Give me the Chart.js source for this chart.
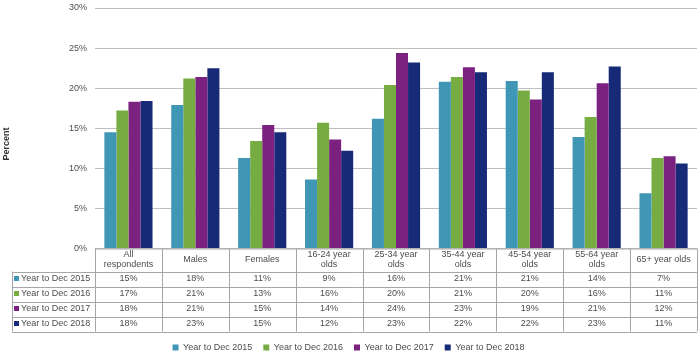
<!DOCTYPE html>
<html lang="en">
<head>
    <meta charset="UTF-8">
    <title>Percent by group, year to Dec 2015-2018</title>
    <style>
        html, body {
            margin: 0;
            padding: 0;
            background: #fff;
            overflow: hidden;
        }
        .wrap {
            position: relative;
            width: 700px;
            height: 362px;
        }
    </style>
    <script src="https://cdn.jsdelivr.net/npm/chart.js"></script>
</head>
<body>
    <div class="wrap">
        <canvas id="chart"></canvas>
    </div>

    <script>
        // header text of the table (one entry per line)
        const categories = [
            ['All', 'respondents'], ['Males'], ['Females'],
            ['16-24 year', 'olds'], ['25-34 year', 'olds'], ['35-44 year', 'olds'],
            ['45-54 year', 'olds'], ['55-64 year', 'olds'], ['65+ year olds']
        ];
        const seriesNames = ['Year to Dec 2015', 'Year to Dec 2016', 'Year to Dec 2017', 'Year to Dec 2018'];
        const seriesColors = ['#4097b5', '#77ac42', '#7b2180', '#172a77'];

        // bar heights
        const dec2015 = [14.5, 17.9, 11.3, 8.6, 16.2, 20.8, 20.9, 13.9, 6.9];
        const dec2016 = [17.2, 21.2, 13.4, 15.7, 20.4, 21.4, 19.7, 16.4, 11.3];
        const dec2017 = [18.3, 21.4, 15.4, 13.6, 24.4, 22.6, 18.6, 20.6, 11.5];
        const dec2018 = [18.4, 22.5, 14.5, 12.2, 23.2, 22.0, 22.0, 22.7, 10.6];

        // rounded values printed in the table
        const table2015 = ['15%', '18%', '11%', '9%', '16%', '21%', '21%', '14%', '7%'];
        const table2016 = ['17%', '21%', '13%', '16%', '20%', '21%', '20%', '16%', '11%'];
        const table2017 = ['18%', '21%', '15%', '14%', '24%', '23%', '19%', '21%', '12%'];
        const table2018 = ['18%', '23%', '15%', '12%', '23%', '22%', '22%', '23%', '11%'];

        const yTicks = [0, 5, 10, 15, 20, 25, 30];

        const seriesData = [dec2015, dec2016, dec2017, dec2018];
        const tableRows = [table2015, table2016, table2017, table2018];

        const textColor = '#4d4d4d';
        const lineColor = '#a6a6a6';
        const fontFamily = '"Liberation Sans", Arial, sans-serif';

        // draws the data table under the bars and the "Percent" title
        const dataTable = {
            id: 'dataTable',
            afterDraw(chart) {
                const ctx = chart.ctx;
                const x = chart.scales.x;
                const area = chart.chartArea;
                const colW = area.width / categories.length;
                const top = area.bottom;
                const headBottom = top + 23;
                const rowH = 15;
                const tableBottom = headBottom + rowH * tableRows.length;
                const labelLeft = 12;

                ctx.save();
                ctx.strokeStyle = lineColor;
                ctx.lineWidth = 1;

                // horizontal lines
                ctx.beginPath();
                ctx.moveTo(area.left, top + 0.5);
                ctx.lineTo(area.right, top + 0.5);
                for (let r = 0; r <= tableRows.length; r++) {
                    const y = Math.round(headBottom + r * rowH) + 0.5;
                    ctx.moveTo(labelLeft, y);
                    ctx.lineTo(area.right, y);
                }
                // vertical lines
                for (let i = 0; i <= categories.length; i++) {
                    const xx = Math.round(area.left + i * colW) + 0.5;
                    ctx.moveTo(xx, top);
                    ctx.lineTo(xx, tableBottom);
                }
                ctx.moveTo(labelLeft + 0.5, headBottom);
                ctx.lineTo(labelLeft + 0.5, tableBottom);
                ctx.stroke();

                ctx.fillStyle = textColor;
                ctx.font = '9px ' + fontFamily;
                ctx.textAlign = 'center';
                ctx.textBaseline = 'middle';

                // header
                categories.forEach((lines, i) => {
                    const cx = x.getPixelForValue(i);
                    const mid = (top + headBottom) / 2;
                    lines.forEach((t, k) => {
                        const y = mid + (k - (lines.length - 1) / 2) * 10;
                        ctx.fillText(t, cx, y);
                    });
                });

                // rows
                tableRows.forEach((row, r) => {
                    const cy = headBottom + r * rowH + rowH / 2;
                    row.forEach((t, i) => {
                        ctx.fillText(t, x.getPixelForValue(i), cy);
                    });
                    ctx.fillStyle = seriesColors[r];
                    ctx.fillRect(labelLeft + 2, cy - 3, 5, 5);
                    ctx.fillStyle = textColor;
                    ctx.textAlign = 'left';
                    ctx.fillText(seriesNames[r], labelLeft + 9, cy);
                    ctx.textAlign = 'center';
                });

                // axis title
                ctx.translate(7, 144);
                ctx.rotate(-Math.PI / 2);
                ctx.font = 'bold 9px ' + fontFamily;
                ctx.fillStyle = '#333';
                ctx.fillText('Percent', 0, 0);
                ctx.restore();
            }
        };

        const ctx = document.getElementById('chart').getContext('2d');
        const chart = new Chart(ctx, {
            type: 'bar',
            data: {
                labels: categories.map(c => c.join(' ')),
                datasets: seriesNames.map((name, i) => ({
                    label: name,
                    data: seriesData[i],
                    backgroundColor: seriesColors[i],
                    borderWidth: 0,
                    categoryPercentage: 0.72,
                    barPercentage: 1.0
                }))
            },
            options: {
                responsive: true,
                maintainAspectRatio: false,
                animation: false,
                layout: {
                    padding: { top: 8, right: 3, left: 0, bottom: 0 }
                },
                plugins: {
                    legend: {
                        position: 'bottom',
                        labels: {
                            boxWidth: 6,
                            boxHeight: 6,
                            padding: 11,
                            color: textColor,
                            font: { family: fontFamily, size: 9 }
                        }
                    },
                    tooltip: { enabled: false }
                },
                scales: {
                    x: {
                        grid: { display: false },
                        border: { display: false },
                        ticks: { display: false },
                        afterFit(scale) { scale.height = 83.5; }
                    },
                    y: {
                        min: 0,
                        max: 30,
                        afterFit(scale) { scale.width = 95; },
                        afterBuildTicks(scale) {
                            scale.ticks = yTicks.map(v => ({ value: v }));
                        },
                        border: { display: false },
                        grid: {
                            color: '#bfbfbf',
                            drawTicks: true,
                            tickLength: 8,
                            tickColor: 'rgba(0,0,0,0)'
                        },
                        ticks: {
                            padding: 0,
                            color: textColor,
                            font: { family: fontFamily, size: 9 },
                            callback: v => v + '%'
                        }
                    }
                }
            },
            plugins: [dataTable]
        });
    </script>
</body>
</html>
